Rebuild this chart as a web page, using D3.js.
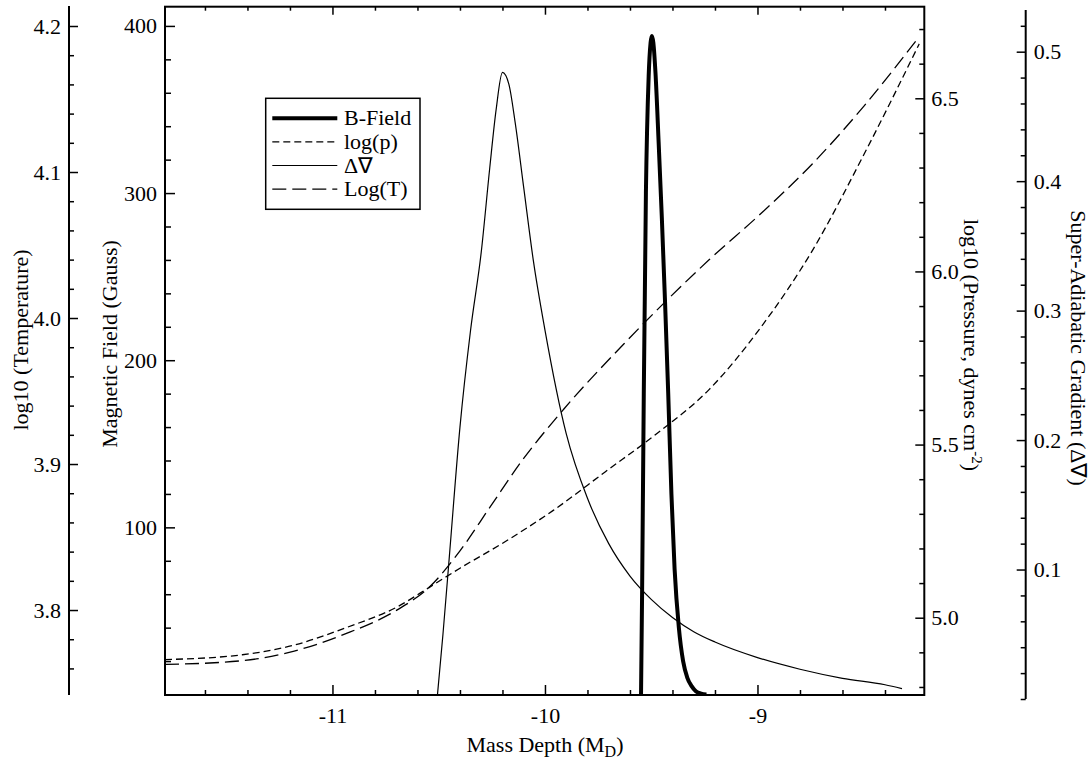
<!DOCTYPE html>
<html><head><meta charset="utf-8">
<script src="https://cdn.jsdelivr.net/npm/d3@7"></script>
<style>
body{margin:0;background:#fff}
text{font-family:"Liberation Serif","Times New Roman",serif;fill:#000}
</style>
</head><body>
<svg id="c" width="1090" height="759"></svg>
<script>
// ---- data (x = mass depth) ----
const bFieldX = [-9.548,-9.543,-9.535,-9.525,-9.512,-9.503,-9.497,-9.490,-9.480,-9.465,-9.450,-9.435,-9.420,-9.405,-9.390,-9.370,-9.350,-9.330,-9.310,-9.290,-9.265,-9.24];
const bFieldY = [0,60,180,300,370,390,394,390,372,330,285,235,180,120,75,40,20,10,5,2,0.5,0];

const gradX = [-10.506,-10.48,-10.45,-10.40,-10.35,-10.30,-10.26,-10.23,-10.20,-10.17,-10.14,-10.10,-10.055,-10.0,-9.9,-9.8,-9.7,-9.6,-9.5,-9.4,-9.3,-9.2,-9.0,-8.8,-8.6,-8.4,-8.32];
const gradY = [0.003,0.05,0.11,0.21,0.285,0.345,0.41,0.455,0.484,0.475,0.445,0.395,0.339,0.285,0.205,0.155,0.12,0.095,0.077,0.063,0.052,0.044,0.032,0.023,0.016,0.011,0.008];

const logPX = [-11.788,-11.424,-11.18,-10.937,-10.693,-10.546,-10.4,-10.205,-9.961,-9.717,-9.473,-9.229,-8.985,-8.741,-8.498,-8.239];
const logPY = [4.879,4.893,4.921,4.971,5.032,5.087,5.143,5.213,5.31,5.421,5.532,5.658,5.838,6.061,6.339,6.657];

const logTX = [-11.788,-11.424,-11.18,-10.937,-10.693,-10.546,-10.4,-10.254,-10.107,-9.912,-9.62,-9.229,-8.985,-8.741,-8.498,-8.239];
const logTY = [3.7627,3.7653,3.7719,3.7838,3.8003,3.8154,3.8405,3.8715,3.9025,3.9375,3.9836,4.0397,4.0714,4.1057,4.1453,4.1927];

// tick values
const xTicks = [-11,-10,-9];
const bTicks = [100,200,300,400];
const tTicks = [3.8,3.9,4.0,4.1,4.2];
const pTicks = [5.0,5.5,6.0,6.5];
const sTicks = [0.1,0.2,0.3,0.4,0.5];
const legendLabels = ["B-Field","log(p)","\u0394\u2207","Log(T)"];

// ---- scales ----
const svg = d3.select("#c");
const L = 165, R = 924.3, T = 6.7, B = 695;
const x = d3.scaleLinear().domain([-11.788,-8.215]).range([L,R]);
const yB = d3.scaleLinear().domain([0,411.5]).range([694.5,T]);
const yT = d3.scaleLinear().domain([3.7418,4.2137]).range([695,6]);
const yP = d3.scaleLinear().domain([4.7768,6.7645]).range([695,T]);
const yS = d3.scaleLinear().domain([0,0.5322]).range([699,10]);

function minors(scale, step, majors){
  const [a,b] = scale.domain().slice().sort((p,q)=>p-q);
  const out=[]; const s0=Math.ceil(a/step-1e-9);
  for(let i=s0;i*step<=b+1e-9;i++){const v=+(i*step).toFixed(6); if(!majors.some(m=>Math.abs(m-v)<1e-6)) out.push(v);}
  return out;
}
function style(g){g.select(".domain").remove(); g.selectAll("line").attr("stroke","#000").attr("stroke-width",1.5); g.selectAll("text").attr("font-size",22);}

// x axes
const xMin = minors(x,0.2,xTicks);
svg.append("g").attr("transform",`translate(0,${B})`)
  .call(d3.axisBottom(x).tickValues(xTicks).tickSizeInner(-10).tickSizeOuter(0).tickPadding(12).tickFormat(d=>String(d))).call(style);
svg.append("g").attr("transform",`translate(0,${B})`)
  .call(d3.axisBottom(x).tickValues(xMin).tickSizeInner(-5).tickSizeOuter(0).tickFormat("")).call(style);
svg.append("g").attr("transform",`translate(0,${T})`)
  .call(d3.axisTop(x).tickValues(xTicks).tickSizeInner(-8).tickSizeOuter(0).tickFormat("")).call(style);
svg.append("g").attr("transform",`translate(0,${T})`)
  .call(d3.axisTop(x).tickValues(xMin).tickSizeInner(-4).tickSizeOuter(0).tickFormat("")).call(style);

// magnetic field axis
svg.append("g").attr("transform",`translate(${L},0)`)
  .call(d3.axisLeft(yB).tickValues(bTicks).tickSizeInner(-10).tickSizeOuter(0).tickPadding(8).tickFormat(d3.format("d"))).call(style);
svg.append("g").attr("transform",`translate(${L},0)`)
  .call(d3.axisLeft(yB).tickValues(minors(yB,20,bTicks)).tickSizeInner(-6).tickSizeOuter(0).tickFormat("")).call(style);

// temperature axis
const TX = 69;
svg.append("line").attr("x1",TX).attr("x2",TX).attr("y1",6).attr("y2",695).attr("stroke","#000").attr("stroke-width",2);
svg.append("g").attr("transform",`translate(${TX},0)`)
  .call(d3.axisLeft(yT).tickValues(tTicks).tickSizeInner(-9).tickSizeOuter(0).tickPadding(8).tickFormat(d3.format(".1f"))).call(style);
svg.append("g").attr("transform",`translate(${TX},0)`)
  .call(d3.axisLeft(yT).tickValues(minors(yT,0.02,tTicks)).tickSizeInner(-5).tickSizeOuter(0).tickFormat("")).call(style);

// pressure axis
svg.append("g").attr("transform",`translate(${R},0)`)
  .call(d3.axisRight(yP).tickValues(pTicks).tickSizeInner(-9).tickSizeOuter(0).tickPadding(7).tickFormat(d3.format(".1f"))).call(style);
svg.append("g").attr("transform",`translate(${R},0)`)
  .call(d3.axisRight(yP).tickValues(minors(yP,0.1,pTicks)).tickSizeInner(-5).tickSizeOuter(0).tickFormat("")).call(style);

// super-adiabatic axis
const SX = 1025.7;
svg.append("line").attr("x1",SX).attr("x2",SX).attr("y1",10).attr("y2",699).attr("stroke","#000").attr("stroke-width",2);
svg.append("g").attr("transform",`translate(${SX},0)`)
  .call(d3.axisRight(yS).tickValues(sTicks).tickSizeInner(-9).tickSizeOuter(0).tickPadding(8).tickFormat(d3.format(".1f"))).call(style);
svg.append("g").attr("transform",`translate(${SX},0)`)
  .call(d3.axisRight(yS).tickValues(minors(yS,0.02,sTicks)).tickSizeInner(-5).tickSizeOuter(0).tickFormat("")).call(style);

// frame
svg.append("rect").attr("x",L).attr("y",T).attr("width",R-L).attr("height",B-T).attr("fill","none").attr("stroke","#000").attr("stroke-width",2);

// curves
svg.append("clipPath").attr("id","pc").append("rect").attr("x",L).attr("y",T).attr("width",R-L).attr("height",B-T);
const g = svg.append("g").attr("clip-path","url(#pc)");
function draw(xs, ys, ys_scale, opts){
  const pts = xs.map((v,i)=>[x(v), ys_scale(ys[i])]);
  g.append("path").attr("d", d3.line().curve(d3.curveMonotoneX)(pts))
    .attr("fill","none").attr("stroke","#000").attr("stroke-width",opts.w)
    .attr("stroke-dasharray",opts.dash||null).attr("stroke-linejoin","round");
}
draw(logTX, logTY, yT, {w:1.3, dash:"14,6"});
draw(logPX, logPY, yP, {w:1.3, dash:"7,4"});
draw(gradX, gradY, yS, {w:1.2});
draw(bFieldX, bFieldY, yB, {w:4});

// legend
const lg = svg.append("g");
lg.append("rect").attr("x",265.7).attr("y",98.3).attr("width",154.3).attr("height",111).attr("fill","#fff").attr("stroke","#000").attr("stroke-width",1.5);
const styles = [{w:4},{w:1.3,dash:"7,4"},{w:1.2},{w:1.3,dash:"14,6"}];
legendLabels.forEach((t,i)=>{
  const yy = 118.3 + i*23.6;
  lg.append("line").attr("x1",272.3).attr("x2",337.3).attr("y1",yy).attr("y2",yy)
    .attr("stroke","#000").attr("stroke-width",styles[i].w).attr("stroke-dasharray",styles[i].dash||null);
  lg.append("text").attr("x",344).attr("y",yy+7).attr("font-size",22).text(t);
});

// axis titles
svg.append("text").attr("transform","translate(28,340) rotate(-90)").attr("text-anchor","middle").attr("font-size",22).text("log10 (Temperature)");
svg.append("text").attr("transform","translate(117,344) rotate(-90)").attr("text-anchor","middle").attr("font-size",22).text("Magnetic Field (Gauss)");
const pt = svg.append("text").attr("transform","translate(964,345) rotate(90)").attr("text-anchor","middle").attr("font-size",22);
pt.append("tspan").text("log10 (Pressure, dynes cm");
pt.append("tspan").attr("dy",-8).attr("font-size",15).text("-2");
pt.append("tspan").attr("dy",8).text(")");
svg.append("text").attr("transform","translate(1071,348) rotate(90)").attr("text-anchor","middle").attr("font-size",22).text("Super-Adiabatic Gradient (\u0394\u2207)");
const xt = svg.append("text").attr("x",545).attr("y",752).attr("text-anchor","middle").attr("font-size",22);
xt.append("tspan").text("Mass Depth (M");
xt.append("tspan").attr("dy",5).attr("font-size",16).text("D");
xt.append("tspan").attr("dy",-5).text(")");
</script>
</body></html>
